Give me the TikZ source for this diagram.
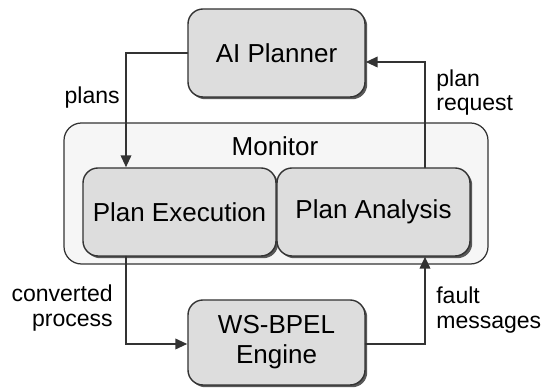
\documentclass[tikz,border=0pt]{standalone}
\usepackage{fontspec}
\setmainfont{Liberation Sans}
\usepackage{tikz}
\usetikzlibrary{arrows.meta,shadows}
\definecolor{boxgray}{HTML}{DDDDDD}
\definecolor{monfill}{HTML}{F6F6F6}
\definecolor{linegray}{HTML}{333333}

\begin{document}
\begin{tikzpicture}[>={Triangle[length=2.4mm,width=2.1mm]},line cap=round,
  comp/.style={draw=linegray,line width=0.8pt,rounded corners=0.3cm,fill=boxgray,
    drop shadow={shadow xshift=0.045cm,shadow yshift=-0.045cm,fill=black!65,opacity=1},
    font=\fontsize{14.8pt}{17pt}\selectfont,align=center,inner sep=0pt},
  lbl/.style={font=\fontsize{13.1pt}{13.8pt}\selectfont,inner sep=0pt},
  flow/.style={->,draw=linegray,line width=1.2pt}]
\useasboundingbox (0,0) rectangle (10.84,7.8);
% monitor frame
\node[draw=linegray,line width=0.7pt,rounded corners=0.35cm,fill=monfill,
  minimum width=8.48cm,minimum height=2.82cm] (mon) at (5.52,3.93) {};
\node[font=\fontsize{14.8pt}{17pt}\selectfont,inner sep=0pt] (montxt) at (5.5,4.87) {Monitor};
% components
\node[comp,minimum width=3.54cm,minimum height=1.76cm] (ai) at (5.53,6.74) {AI Planner};
\node[comp,minimum width=3.86cm,minimum height=1.76cm] (pe) at (3.59,3.56) {Plan Execution};
\node[comp,minimum width=3.86cm,minimum height=1.76cm] (pa) at (7.47,3.56) {Plan Analysis};
\node[comp,minimum width=3.54cm,minimum height=1.70cm] (ws) at (5.53,0.95) {WS-BPEL\\Engine};
% connectors
\draw[flow] (ai.west) -| ([xshift=-1.07cm]pe.north);
\draw[flow] ([xshift=1.03cm]pa.north) |- ([yshift=-0.18cm]ai.east);
\draw[flow] ([xshift=-1.07cm]pe.south) |- ([yshift=-0.03cm]ws.west);
\draw[flow] ([yshift=-0.03cm]ws.east) -| ([xshift=1.03cm]pa.south);
% labels
\node[lbl,anchor=east] (plans) at (2.4,5.84) {plans};
\node[lbl,anchor=west,align=left] (req) at (8.72,5.95) {plan\\request};
\node[lbl,anchor=east,align=right] (conv) at (2.26,1.64) {converted\\process};
\node[lbl,anchor=west,align=left] (fault) at (8.72,1.6) {fault\\messages};
\end{tikzpicture}
\end{document}
